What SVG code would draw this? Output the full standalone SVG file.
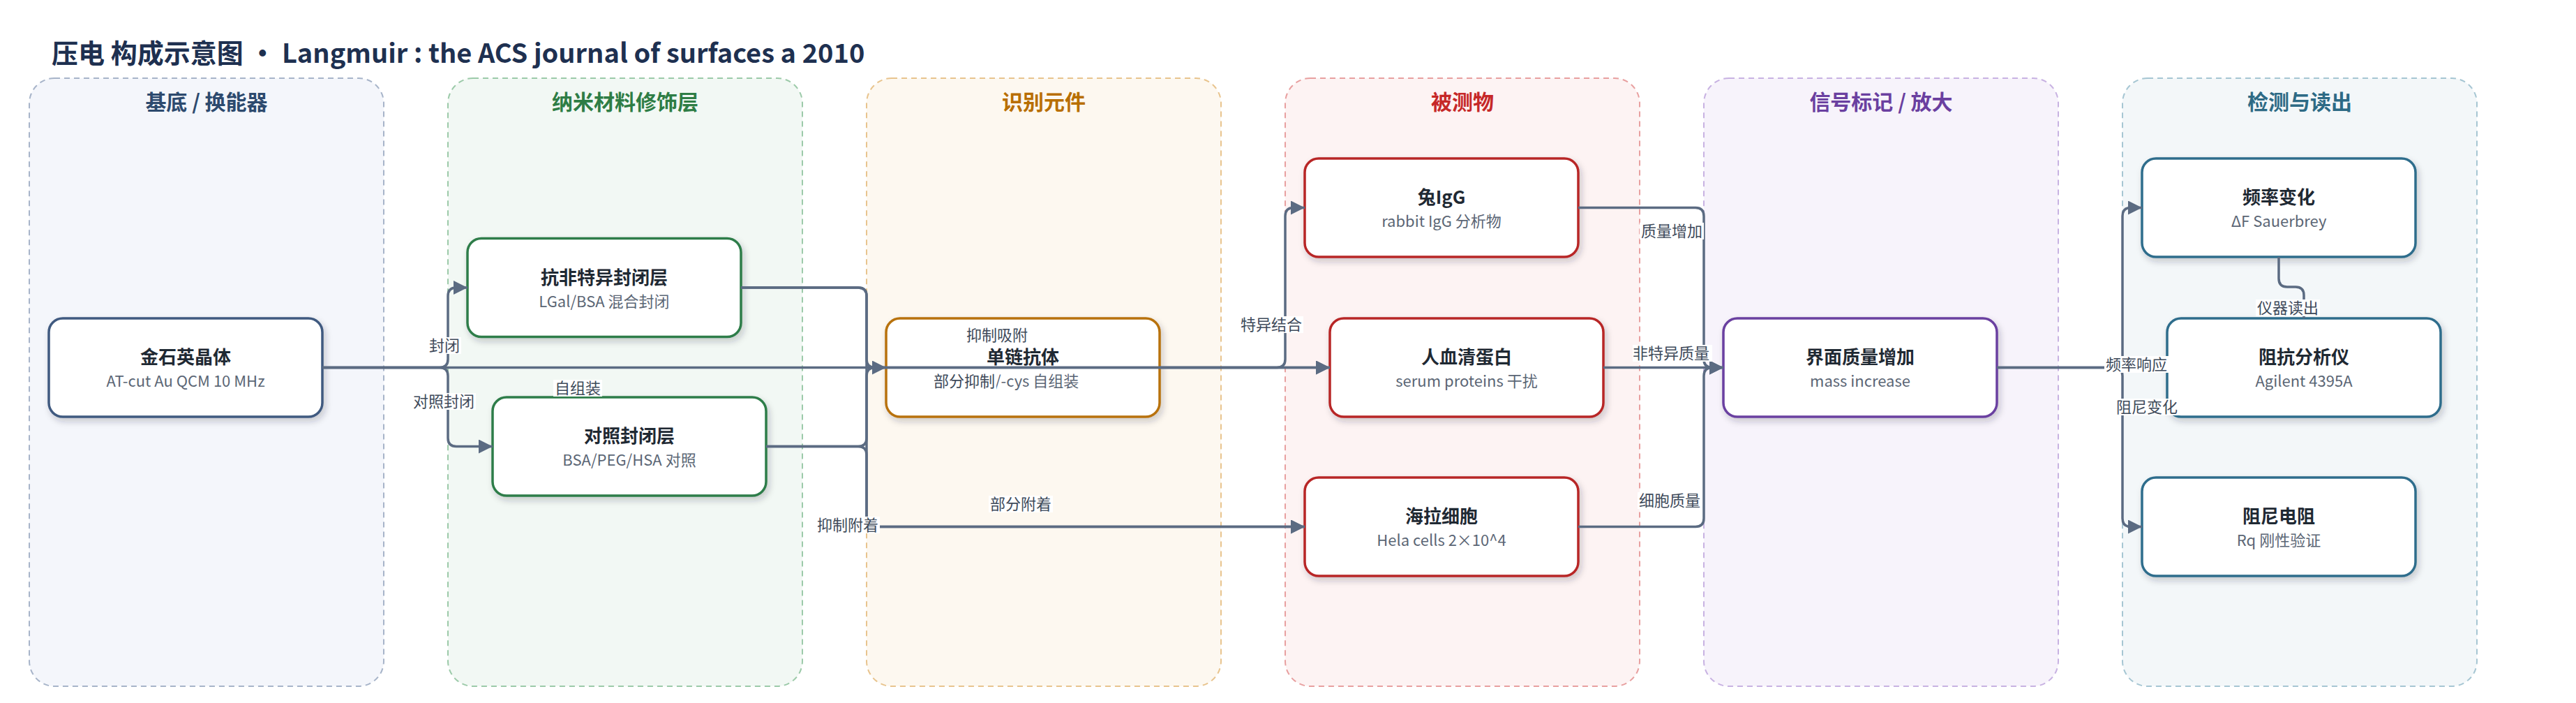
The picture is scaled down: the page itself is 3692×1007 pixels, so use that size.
<svg xmlns="http://www.w3.org/2000/svg" width="3692" height="1007" viewBox="0 0 3692 1007">
<defs>
<filter id="sh" x="-10%" y="-20%" width="125%" height="150%">
<feDropShadow dx="3" dy="5" stdDeviation="5" flood-color="#1f2937" flood-opacity="0.22"/>
</filter>
<marker id="ah" markerUnits="userSpaceOnUse" markerWidth="20" markerHeight="20" refX="20" refY="10" orient="auto">
<path d="M0,0 L20,10 L0,20 z" fill="#5b6b82"/>
</marker>
<style>
text{font-family:"Noto Sans CJK SC","Noto Sans",sans-serif}
.title{font-size:38px;font-weight:700;fill:#1e3050}
.lt{font-size:30px;font-weight:700;text-anchor:middle}
.lane{stroke-width:2;stroke-dasharray:8 6}
.node{fill:#fff;stroke-width:3.5;filter:url(#sh)}
.nt{font-size:26px;font-weight:700;fill:#1f2933;text-anchor:middle}
.ns{font-size:22px;fill:#5b6675;text-anchor:middle}
.e{fill:none;stroke:#5b6b82;stroke-width:3.5;marker-end:url(#ah)}
.lb{font-size:22px;fill:#3e4a5a;text-anchor:middle}
.lbg{fill:#fff}
</style>
</defs>
<rect width="3692" height="1007" fill="#fff"/>
<text class="title" x="74" y="90">压电 构成示意图 · Langmuir : the ACS journal of surfaces a 2010</text>

<g id="lanes">
<g id="lane1"><rect class="lane" x="42" y="112" width="508" height="871" rx="36" fill="#f4f6fb" stroke="#a7b4c9"/><text class="lt" x="296" y="157" fill="#2d4a6e">基底 / 换能器</text></g>
<g id="lane2"><rect class="lane" x="642" y="112" width="508" height="871" rx="36" fill="#f2f8f4" stroke="#9ccaa9"/><text class="lt" x="896" y="157" fill="#2e7d45">纳米材料修饰层</text></g>
<g id="lane3"><rect class="lane" x="1242" y="112" width="508" height="871" rx="36" fill="#fdf8f0" stroke="#e8c48e"/><text class="lt" x="1496" y="157" fill="#b86e00">识别元件</text></g>
<g id="lane4"><rect class="lane" x="1842" y="112" width="508" height="871" rx="36" fill="#fdf3f3" stroke="#e8a0a0"/><text class="lt" x="2096" y="157" fill="#c62828">被测物</text></g>
<g id="lane5"><rect class="lane" x="2442" y="112" width="508" height="871" rx="36" fill="#f7f3fb" stroke="#c8b2e2"/><text class="lt" x="2696" y="157" fill="#6a3fa0">信号标记 / 放大</text></g>
<g id="lane6"><rect class="lane" x="3042" y="112" width="508" height="871" rx="36" fill="#f3f7f9" stroke="#a6c6d3"/><text class="lt" x="3296" y="157" fill="#2d6a85">检测与读出</text></g>
</g>

<g id="nodes">
<g id="n1"><rect class="node" x="70" y="456" width="392" height="141" rx="20" stroke="#3f5a80"/><text class="nt" x="266" y="521">金石英晶体</text><text class="ns" x="266" y="554">AT-cut Au QCM 10 MHz</text></g>
<g id="n2"><rect class="node" x="670" y="341.5" width="392" height="141" rx="20" stroke="#2e7d4a"/><text class="nt" x="866" y="406.5">抗非特异封闭层</text><text class="ns" x="866" y="439.5">LGal/BSA 混合封闭</text></g>
<g id="n3"><rect class="node" x="706" y="569" width="392" height="141" rx="20" stroke="#2e7d4a"/><text class="nt" x="902" y="634">对照封闭层</text><text class="ns" x="902" y="667">BSA/PEG/HSA 对照</text></g>
<g id="n4"><rect class="node" x="1270" y="456" width="392" height="141" rx="20" stroke="#b8720a"/><text class="nt" x="1466" y="521">单链抗体</text><text class="ns" x="1426" y="554" style="text-anchor:start">/-cys 自组装</text></g>
<g id="n5"><rect class="node" x="1870" y="227" width="392" height="141" rx="20" stroke="#b82828"/><text class="nt" x="2066" y="292">兔IgG</text><text class="ns" x="2066" y="325">rabbit IgG 分析物</text></g>
<g id="n6"><rect class="node" x="1906" y="456" width="392" height="141" rx="20" stroke="#b82828"/><text class="nt" x="2102" y="521">人血清蛋白</text><text class="ns" x="2102" y="554">serum proteins 干扰</text></g>
<g id="n7"><rect class="node" x="1870" y="684" width="392" height="141" rx="20" stroke="#b82828"/><text class="nt" x="2066" y="749">海拉细胞</text><text class="ns" x="2066" y="782">Hela cells 2×10^4</text></g>
<g id="n8"><rect class="node" x="2470" y="456" width="392" height="141" rx="20" stroke="#6a3fa0"/><text class="nt" x="2666" y="521">界面质量增加</text><text class="ns" x="2666" y="554">mass increase</text></g>
<g id="n9"><rect class="node" x="3070" y="227" width="392" height="141" rx="20" stroke="#2f6d8c"/><text class="nt" x="3266" y="292">频率变化</text><text class="ns" x="3266" y="325">ΔF Sauerbrey</text></g>
<g id="n10"><rect class="node" x="3106" y="456" width="392" height="141" rx="20" stroke="#2f6d8c"/><text class="nt" x="3302" y="521">阻抗分析仪</text><text class="ns" x="3302" y="554">Agilent 4395A</text></g>
<g id="n11"><rect class="node" x="3070" y="684" width="392" height="141" rx="20" stroke="#2f6d8c"/><text class="nt" x="3266" y="749">阻尼电阻</text><text class="ns" x="3266" y="782">Rq 刚性验证</text></g>
</g>

<g id="connectors">
<path class="e" d="M462,526.5 H630 Q642,526.5 642,514.5 V424 Q642,412 654,412 H670"/>
<path class="e" d="M462,526.5 H630 Q642,526.5 642,538.5 V627.5 Q642,639.5 654,639.5 H706"/>
<path class="e" d="M462,526.5 H1270"/>
<path class="e" d="M1062,412 H1230 Q1242,412 1242,424 V514.5 Q1242,526.5 1254,526.5 H1906"/>
<path class="e" d="M1098,639.5 H1230 Q1242,639.5 1242,627.5 V538.5 Q1242,526.5 1254,526.5 H1906"/>
<path class="e" d="M1062,412 H1230 Q1242,412 1242,424 V742.5 Q1242,754.5 1254,754.5 H1870"/>
<path class="e" d="M1098,639.5 H1230 Q1242,639.5 1242,651.5 V742.5 Q1242,754.5 1254,754.5 H1870"/>
<path class="e" d="M1662,526.5 H1830 Q1842,526.5 1842,514.5 V309.5 Q1842,297.5 1854,297.5 H1870"/>
<path class="e" d="M2262,297.5 H2430 Q2442,297.5 2442,309.5 V514.5 Q2442,526.5 2454,526.5 H2470"/>
<path class="e" d="M2298,526.5 H2470"/>
<path class="e" d="M2262,754.5 H2430 Q2442,754.5 2442,742.5 V538.5 Q2442,526.5 2454,526.5 H2470"/>
<path class="e" d="M2862,526.5 H3030 Q3042,526.5 3042,514.5 V309.5 Q3042,297.5 3054,297.5 H3070"/>
<path class="e" d="M2862,526.5 H3030 Q3042,526.5 3042,538.5 V742.5 Q3042,754.5 3054,754.5 H3070"/>
<path class="e" d="M3266,368 V399 Q3266,411 3278,411 H3290 Q3302,411 3302,423 V456"/>
</g>

<g id="labels">
<rect class="lbg" x="613" y="483" width="48" height="24"/><text class="lb" x="637" y="503">封闭</text>
<rect class="lbg" x="590" y="563" width="92" height="24"/><text class="lb" x="636" y="583">对照封闭</text>
<rect class="lbg" x="793" y="544" width="70" height="24"/><text class="lb" x="828" y="564">自组装</text>
<rect class="lbg" x="1385" y="468" width="92" height="24"/><text class="lb" x="1429" y="488">抑制吸附</text>
<rect class="lbg" x="1336" y="534" width="92" height="24"/><text class="lb" x="1382" y="554">部分抑制</text>
<rect class="lbg" x="1169" y="740" width="92" height="24"/><text class="lb" x="1215" y="760">抑制附着</text>
<rect class="lbg" x="1417" y="710" width="92" height="24"/><text class="lb" x="1463" y="730">部分附着</text>
<rect class="lbg" x="1776" y="453" width="92" height="24"/><text class="lb" x="1822" y="473">特异结合</text>
<rect class="lbg" x="2350" y="319" width="92" height="24"/><text class="lb" x="2396" y="339">质量增加</text>
<rect class="lbg" x="2340" y="494" width="114" height="24"/><text class="lb" x="2395" y="514">非特异质量</text>
<rect class="lbg" x="2347" y="705" width="92" height="24"/><text class="lb" x="2393" y="725">细胞质量</text>
<rect class="lbg" x="3016" y="510" width="92" height="24"/><text class="lb" x="3062" y="530">频率响应</text>
<rect class="lbg" x="3031" y="571" width="92" height="24"/><text class="lb" x="3077" y="591">阻尼变化</text>
<rect class="lbg" x="3233" y="429" width="92" height="24"/><text class="lb" x="3279" y="449">仪器读出</text>
</g>
</svg>
